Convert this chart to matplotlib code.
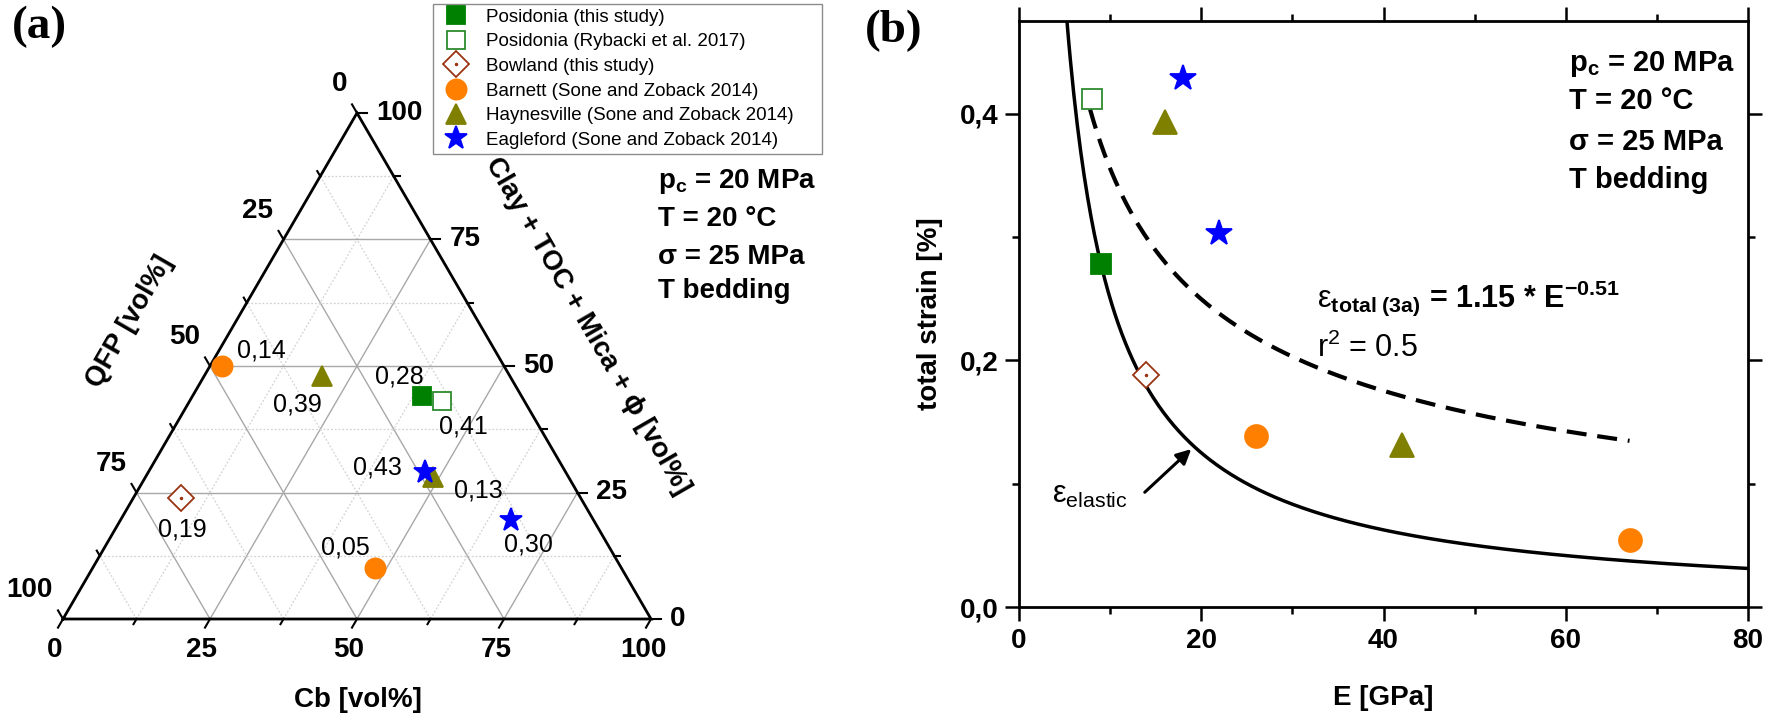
import numpy as np
import matplotlib
matplotlib.use("Agg")
import matplotlib.pyplot as plt
from matplotlib import font_manager
from matplotlib.ticker import FuncFormatter, MultipleLocator

plt.rcParams['font.family'] = ['Liberation Sans', 'DejaVu Sans']
plt.rcParams['mathtext.fontset'] = 'custom'
plt.rcParams['mathtext.rm'] = 'Liberation Sans'
plt.rcParams['mathtext.it'] = 'Liberation Sans:italic'
plt.rcParams['mathtext.bf'] = 'Liberation Sans:bold'

installed = {f.name for f in font_manager.fontManager.ttflist}
narrow = 'Liberation Sans Narrow' if 'Liberation Sans Narrow' in installed else 'Liberation Sans'

# ---------------- data ----------------
samples = ['Posidonia (this study)', 'Posidonia (Rybacki et al. 2017)',
           'Bowland (this study)', 'Barnett (Sone and Zoback 2014)',
           'Haynesville (Sone and Zoback 2014)', 'Eagleford (Sone and Zoback 2014)']
colors = ['#008000', '#2e8b2e', '#993311', '#ff8000', '#808000', '#0000ff']
markers = ['s', 's', 'D', 'o', '^', '*']
filled = [True, False, False, True, True, True]

# composition [vol%]
cb_vol = [[39], [43], [8], [2, 48], [20, 49], [47, 66.5]]
clay_vol = [[44], [43], [24], [50, 10], [48, 28], [29, 19.5]]
# mechanical data
E_gpa = [[9], [8], [13.9], [26, 67], [16, 42], [18, 22]]
strain = [[0.278], [0.412], [0.188], [0.139, 0.054], [0.393, 0.131], [0.429, 0.303]]
strain_labels = [['0,28'], ['0,41'], ['0,19'], ['0,14', '0,05'], ['0,39', '0,13'], ['0,43', '0,30']]

# fitted power law shown in (b) and elastic strain sigma/E
fit_a, fit_b = 1.15, -0.51
fit_E_range = (7.8, 67)
sigma_mpa = 25

# ---------------- layout helpers ----------------
W, HP = 1772, 723
fig = plt.figure(figsize=(W / 100, HP / 100), dpi=100)


def fx(p):
    return p / W


def fy(p):
    return 1 - p / HP


# label offsets (pixels) of the strain values in the ternary plot
label_offsets = [[(-22, 20)], [(21, -25)], [(2, -32)], [(40, 15), (-29, 21)],
                 [(-24, -28), (45, -13)], [(-47, 5), (17, -24)]]
tern_ms = [13, 13, 13, 14.5, 15, 17]
b_ms = [14.5, 14.5, 13.5, 16.5, 17.5, 19]

# ================= (a) ternary =================
H = np.sqrt(3) / 2
axT = fig.add_axes([fx(63), fy(619), fx(651) - fx(63), fy(113) - fy(619)])
axT.set_xlim(0, 1)
axT.set_ylim(0, H)
axT.axis('off')
px = 1 / 588


def tern_xy(cb, clay):
    cb = np.asarray(cb, float) / 100
    clay = np.asarray(clay, float) / 100
    return cb + 0.5 * clay, H * clay


# grid
for v in np.arange(12.5, 100, 12.5):
    if v % 25 == 0:
        kw = dict(color='#a8a8a8', lw=1.0, ls='-', zorder=1)
    else:
        kw = dict(color='#d2d2d2', lw=0.9, ls=(0, (1.5, 1.5)), zorder=1)
    axT.plot(*tern_xy([0, 100 - v], [v, v]), **kw)
    axT.plot(*tern_xy([v, v], [0, 100 - v]), **kw)
    axT.plot(*tern_xy([100 - v, 0], [0, 100 - v]), **kw)

axT.plot(*tern_xy([0, 100, 0, 0], [0, 0, 100, 0]), color='black', lw=2, zorder=3,
         clip_on=False, solid_joinstyle='miter')

# ticks
for v in np.arange(0, 100.1, 12.5):
    L = (10 if v % 25 == 0 else 6) * px
    tk = dict(color='black', lw=1.5, clip_on=False, zorder=3)
    x0, y0 = tern_xy(v, 0)
    axT.plot([x0, x0 - 0.5 * L], [y0, y0 - H * L], **tk)
    x0, y0 = tern_xy(100 - v, v)
    axT.plot([x0, x0 + L], [y0, y0], **tk)
    x0, y0 = tern_xy(0, 100 - v)
    axT.plot([x0, x0 - 0.5 * L], [y0, y0 + H * L], **tk)

tick_vals = [0, 25, 50, 75, 100]
tfont = dict(fontsize=20, fontweight='bold')
for v in tick_vals:
    x0, y0 = tern_xy(v, 0)
    axT.text(x0 - 8 * px, y0 - 31 * px, str(v), ha='center', va='center', **tfont)
    x0, y0 = tern_xy(100 - v, v)
    axT.text(x0 + 19 * px, y0, str(v), ha='left', va='center', **tfont)
    x0, y0 = tern_xy(0, 100 - v)
    axT.text(x0 - 10 * px, y0 + 29 * px, str(v), ha='right', va='center', **tfont)

axT.text(0.502, -0.139, 'Cb [vol%]', ha='center', va='center', **tfont)
axT.text(0.114, 0.509, 'QFP [vol%]', ha='center', va='center', rotation=60, **tfont)
axT.text(0.8915, 0.502, 'Clay + TOC + Mica + ϕ [vol%]', ha='center', va='center',
         rotation=-60, **tfont)

handles = []
for i, name in enumerate(samples):
    x, y = tern_xy(cb_vol[i], clay_vol[i])
    face = colors[i] if filled[i] else 'white'
    ln, = axT.plot(x, y, ls='none', marker=markers[i], ms=tern_ms[i], mfc=face,
                   mec=colors[i], mew=1.3, zorder=5, clip_on=False, label=name)
    if markers[i] == 'D':
        dot, = axT.plot(x, y, ls='none', marker='o', ms=1.5, color=colors[i], zorder=6)
        handles.append((ln, dot))
    else:
        handles.append(ln)
    for j in range(len(x)):
        dx, dy = label_offsets[i][j]
        axT.annotate(strain_labels[i][j], (x[j], y[j]), xytext=(dx * 0.72, dy * 0.72),
                     textcoords='offset points', ha='center', va='center', fontsize=18,
                     zorder=7)

leg = fig.legend(handles, samples, loc='upper left',
                 bbox_to_anchor=(fx(433), fy(4), fx(822) - fx(433), 0.0001), mode='expand',
                 borderaxespad=0, fontsize=13.5, frameon=True, fancybox=False, framealpha=1,
                 edgecolor='#8c8c8c', borderpad=0.25, labelspacing=0.4, handlelength=2.0,
                 handletextpad=0.6, numpoints=1)
leg.get_frame().set_linewidth(1.0)

info = ['p$_\\mathbf{c}$ = 20 MPa', 'T = 20 °C', 'σ = 25 MPa', 'T bedding']
for t, yy in zip(info, [182, 219, 257, 291]):
    fig.text(fx(658), fy(yy), t, fontsize=20, fontweight='bold', ha='left', va='center')

fig.text(fx(39), fy(27), '(a)', family='Liberation Serif', fontsize=34, fontweight='bold',
         ha='center', va='center')

# ================= (b) strain vs E =================
axB = fig.add_axes([fx(1019), fy(607), fx(1748) - fx(1019), fy(21) - fy(607)])
axB.set_xlim(0, 80)
axB.set_ylim(0, 0.475)

E_el = np.linspace(4.5, 80, 400)
axB.plot(E_el, sigma_mpa / (E_el * 1000) * 100, color='black', lw=2.5, zorder=2)
E_fit = np.linspace(*fit_E_range, 300)
axB.plot(E_fit, fit_a * E_fit ** fit_b, color='black', lw=3, ls=(0, (4.8, 2.6)), zorder=2)

for i in range(len(samples)):
    face = colors[i] if filled[i] else 'white'
    axB.plot(E_gpa[i], strain[i], ls='none', marker=markers[i], ms=b_ms[i], mfc=face,
             mec=colors[i], mew=1.3, zorder=5)
    if markers[i] == 'D':
        axB.plot(E_gpa[i], strain[i], ls='none', marker='o', ms=1.5, color=colors[i], zorder=6)

axB.xaxis.set_major_locator(MultipleLocator(20))
axB.xaxis.set_minor_locator(MultipleLocator(10))
axB.yaxis.set_major_locator(MultipleLocator(0.2))
axB.yaxis.set_minor_locator(MultipleLocator(0.1))
axB.yaxis.set_major_formatter(FuncFormatter(lambda v, p: f'{v:.1f}'.replace('.', ',')))
axB.tick_params(which='both', direction='out', top=True, right=True, width=1.8)
axB.tick_params(which='major', length=10, pad=5, labelsize=20)
axB.tick_params(which='minor', length=5)
for lab in axB.get_xticklabels() + axB.get_yticklabels():
    lab.set_fontweight('bold')
for s in axB.spines.values():
    s.set_linewidth(2)

fig.text(fx(930), fy(314), 'total strain [%]', rotation=90, fontsize=20, fontweight='bold',
         ha='center', va='center')
fig.text(fx(1383), fy(698), 'E [GPa]', fontsize=20, fontweight='bold', ha='center', va='center')

for t, yy in zip(info, [64, 101, 142, 180]):
    fig.text(fx(1569), fy(yy), t, family=narrow, fontsize=21, fontweight='bold',
             ha='left', va='center')

fig.text(fx(1317), fy(307),
         r'$\mathrm{\varepsilon}_{\mathbf{total\ (3a)}}$ = 1.15 * E$^{\mathbf{-0.51}}$',
         fontsize=22, fontweight='bold', ha='left', va='baseline')
fig.text(fx(1317), fy(357), r'r$^2$ = 0.5', fontsize=22, ha='left', va='baseline')

fig.text(fx(1052), fy(503), r'$\mathrm{\varepsilon}_{\mathrm{elastic}}$', fontsize=22,
         ha='left', va='baseline')
axB.annotate('', xy=(18.9, 0.128), xytext=(13.8, 0.093),
             arrowprops=dict(arrowstyle='-|>', color='black', lw=2.2, mutation_scale=22,
                             shrinkA=0, shrinkB=0))

fig.text(fx(894), fy(31), '(b)', family='Liberation Serif', fontsize=34, fontweight='bold',
         ha='center', va='center')

fig.savefig('out.png', dpi=100)
